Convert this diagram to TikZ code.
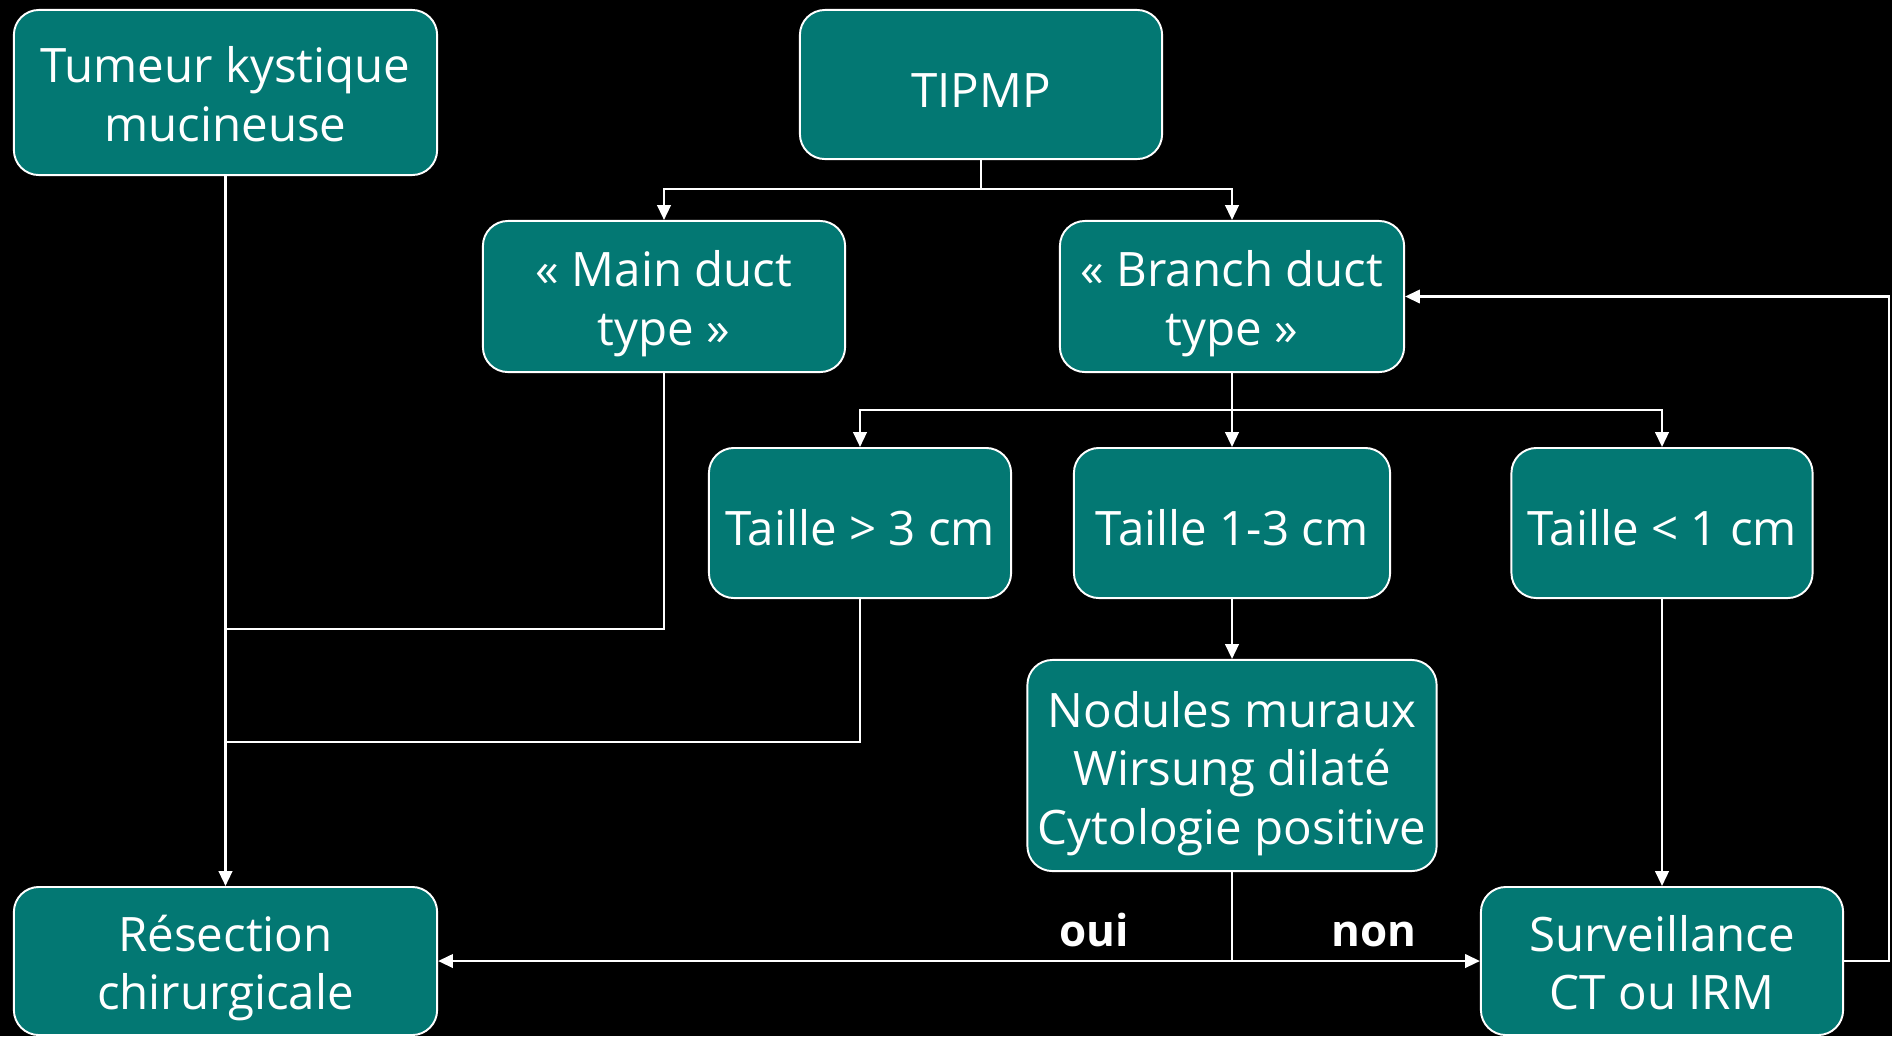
\documentclass[tikz,border=0pt]{standalone}
\usepackage{fontspec}
\setmainfont{Open Sans}
\usetikzlibrary{arrows.meta}
\definecolor{boxteal}{RGB}{3,120,115}
\begin{document}
\begin{tikzpicture}[x=0.01cm,y=-0.01cm,
  box/.style={draw=white, line width=0.55pt, fill=boxteal, rounded corners=0.25cm,
    text=white, align=center, inner sep=0pt, text depth=3.3pt,
    font=\fontsize{13.5}{16.6}\selectfont},
  oneline/.style={box, text height=16.3pt},
  twoline/.style={box, text height=31pt},
  threeline/.style={box, text height=48pt},
  link/.style={draw=white, line width=0.7pt},
  arr/.style={link, -{Triangle[width=3.8pt,length=4.2pt]}},
  lab/.style={text=white, anchor=base, font=\fontsize{12.5}{14}\selectfont\bfseries}]
% page background
\fill[black] (0,0) rectangle (1892,1036);
\useasboundingbox (0,0) rectangle (1892,1036);

% boxes
\node[twoline, minimum width=4.23cm, minimum height=1.65cm] (tum) at (225.5,92.5) {Tumeur kystique\\mucineuse};
\node[oneline, minimum width=3.62cm, minimum height=1.49cm] (tip) at (981,84.5) {TIPMP};
\node[twoline, minimum width=3.62cm, minimum height=1.51cm] (main) at (664,296.5) {« Main duct\\type »};
\node[twoline, minimum width=3.44cm, minimum height=1.51cm] (branch) at (1232,296.5) {« Branch duct\\type »};
\node[oneline, minimum width=3.02cm, minimum height=1.50cm] (t3) at (860,523) {Taille > 3 cm};
\node[oneline, minimum width=3.16cm, minimum height=1.50cm] (t13) at (1232,523) {Taille 1-3 cm};
\node[oneline, minimum width=3.01cm, minimum height=1.50cm] (t1) at (1662,523) {Taille < 1 cm};
\node[threeline, minimum width=4.09cm, minimum height=2.11cm] (nod) at (1232,765.5) {Nodules muraux\\Wirsung dilaté\\Cytologie positive};
\node[twoline, minimum width=4.23cm, minimum height=1.48cm] (res) at (225.5,961) {Résection\\chirurgicale};
\node[twoline, minimum width=3.62cm, minimum height=1.48cm] (sur) at (1662,961) {Surveillance\\CT ou IRM};

% junction points
\coordinate (tipj) at (981,189);
\coordinate (brj) at (1232,410);
\coordinate (mj) at (225.5,629);
\coordinate (tj) at (225.5,742);
\coordinate (lp) at (1889,296.5);

% connectors
\draw[arr] (tum.south) -- (res.north);
\draw[link] (main.south) |- (mj);
\draw[link] (t3.south) |- (tj);

\draw[link] (tip.south) -- (tipj);
\draw[arr] (tipj) -| (main.north);
\draw[arr] (tipj) -| (branch.north);

\draw[link] (branch.south) -- (brj);
\draw[arr] (brj) -| (t3.north);
\draw[arr] (brj) -| (t1.north);
\draw[arr] (brj) -- (t13.north);

\draw[arr] (t13.south) -- (nod.north);
\draw[arr] (t1.south) -- (sur.north);

\draw[link] (nod.south) -- (nod.south |- res.east);
\draw[arr] (nod.south |- res.east) -- (res.east);
\draw[arr] (nod.south |- sur.west) -- (sur.west);

\draw[arr] (sur.east) -| (lp) -- (branch.east);

% branch labels
\node[lab] (oui) at (1094,946) {oui};
\node[lab] (non) at (1374,946) {non};
\end{tikzpicture}
\end{document}
